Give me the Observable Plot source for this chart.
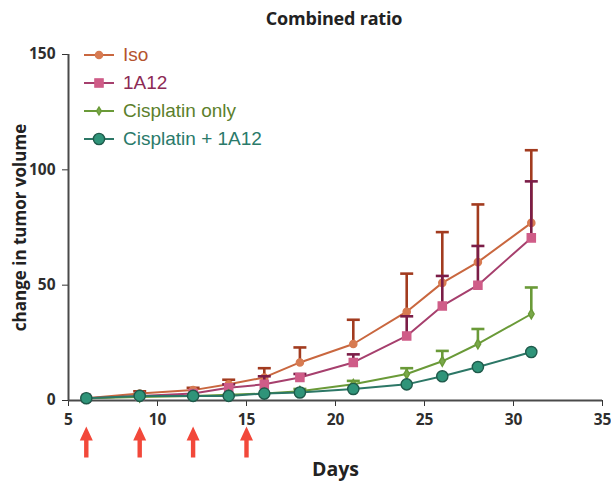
<!DOCTYPE html>
<html><head><meta charset="utf-8">
<script src="https://cdn.jsdelivr.net/npm/d3@7"></script>
<script src="https://cdn.jsdelivr.net/npm/@observablehq/plot@0.6"></script>
<style>
body{margin:0;background:#fff;}
#wrap{position:relative;width:611px;height:483px;overflow:hidden;}
#chart{position:absolute;left:0;top:0;}
#title{position:absolute;left:0;top:6px;width:668px;text-align:center;font:bold 18px "Open Sans";color:#222;letter-spacing:-0.2px;}
#legend{position:absolute;left:84px;top:41px;font-family:"Liberation Sans";font-size:19px;}
.row{display:flex;align-items:center;height:28px;white-space:nowrap;}
.row svg{margin-right:9px;}
</style></head><body>
<div id="wrap"><div id="chart"></div><div id="title">Combined ratio</div><div id="legend"></div></div>
<script>
const days = [6, 9, 12, 14, 16, 18, 21, 24, 26, 28, 31];
const seriesNames = ["Iso", "1A12", "Cisplatin only", "Cisplatin + 1A12"];
const isoMean = [1, 3, 4.5, 7, 10, 16.5, 24.5, 38.5, 51, 60, 77];
const isoUpper = [null, 4, 5.5, 9, 14, 23, 35, 55, 73, 85, 108.5];
const a12Mean = [1, 2, 3, 5.5, 7, 10, 16.5, 28, 41, 50, 70.5];
const a12Upper = [null, null, null, 7, 10.5, 11.5, 20, 36.5, 54, 67, 95];
const cisMean = [1, 1.5, 2, 2.5, 3, 4, 7, 11.5, 17, 24.5, 37.5];
const cisUpper = [null, null, null, null, null, 5, 8.5, 14, 21.5, 31, 49];
const combMean = [1, 2, 2, 2, 3, 3.5, 5, 7, 10.5, 14.5, 21];
const combUpper = [null, null, null, null, null, null, null, null, null, null, null];
const arrowDays = [6, 9, 12, 15];
const xTicks = [5, 10, 15, 20, 25, 30, 35];
const yTicks = [0, 50, 100, 150];

const styles = {
  "Iso": {line: "#c9673f", fill: "#d77b52", err: "#a23b1f", symbol: "circle", r: 3.6, mstroke: "#d77b52", text: "#b5532e"},
  "1A12": {line: "#a63f6d", fill: "#cf5c88", err: "#7b1d47", symbol: "square", r: 4.6, mstroke: "#cf5c88", text: "#8c2a55"},
  "Cisplatin only": {line: "#6a9a38", fill: "#7aa84a", err: "#6a9a38", symbol: "diamond", r: 3, mstroke: "#6a9a38", text: "#5c7f2c"},
  "Cisplatin + 1A12": {line: "#2c7766", fill: "#2f9479", err: "#2c7766", symbol: "circle", r: 5.6, mstroke: "#1f5a4b", text: "#2a7a6a"}
};
const means = [isoMean, a12Mean, cisMean, combMean];
const uppers = [isoUpper, a12Upper, cisUpper, combUpper];
const rows = [];
seriesNames.forEach((s, i) => days.forEach((d, j) => rows.push({series: s, day: d, value: means[i][j], upper: uppers[i][j]})));

const capSymbol = {draw(ctx) { ctx.moveTo(-6.5, 0); ctx.lineTo(6.5, 0); }};
const arrowSymbol = {draw(ctx) {
  ctx.moveTo(0, -16); ctx.lineTo(6.5, -2); ctx.lineTo(2.2, -2); ctx.lineTo(2.2, 15);
  ctx.lineTo(-2.2, 15); ctx.lineTo(-2.2, -2); ctx.lineTo(-6.5, -2); ctx.closePath();
}};

const marks = [];
seriesNames.forEach(s => {
  const st = styles[s];
  const data = rows.filter(r => r.series === s);
  const err = data.filter(r => r.upper != null);
  marks.push(Plot.line(data, {x: "day", y: "value", stroke: st.line, strokeWidth: 2}));
  marks.push(Plot.ruleX(err, {x: "day", y1: "value", y2: "upper", stroke: st.err, strokeWidth: 2.6}));
  marks.push(Plot.dot(err, {x: "day", y: "upper", symbol: capSymbol, stroke: st.err, strokeWidth: 2.6, fill: "none"}));
  marks.push(Plot.dot(data, {x: "day", y: "value", symbol: st.symbol, r: st.r, fill: st.fill, stroke: st.mstroke, strokeWidth: 1.4}));
});

const tickFont = {fontFamily: "Open Sans", fontWeight: "bold", fontSize: 15.5, fill: "#2e2e2e"};

const chart = Plot.plot({
  width: 611, height: 483,
  marginTop: 54, marginBottom: 83, marginLeft: 68, marginRight: 9,
  style: {fontFamily: "Open Sans", color: "#333", background: "white"},
  x: {domain: [5, 35], ticks: xTicks, tickSize: 6, tickFormat: () => "", label: null},
  y: {domain: [0, 150], ticks: yTicks, tickSize: 6, tickFormat: () => "", label: null},
  marks: [
    Plot.ruleY([0], {stroke: "#4a4a4a", strokeWidth: 2}),
    Plot.ruleX([5], {stroke: "#4a4a4a", strokeWidth: 2}),
    Plot.text(xTicks, {x: d => d, frameAnchor: "bottom", dy: 20, text: d => String(d), textAnchor: "middle", lineAnchor: "middle", ...tickFont}),
    Plot.text(yTicks, {y: d => d, frameAnchor: "left", dx: -13, text: d => String(d), textAnchor: "end", lineAnchor: "middle", ...tickFont}),
    ...marks,
    Plot.dot(arrowDays, {x: d => d, frameAnchor: "bottom", dy: 42, symbol: arrowSymbol, fill: "#f2483a", stroke: "none"}),
    Plot.text(["change in tumor volume"], {frameAnchor: "left", dx: -48, rotate: -90, textAnchor: "middle", lineAnchor: "middle", fontFamily: "Open Sans", fontWeight: "bold", fontSize: 17, fill: "#222"}),
    Plot.text(["Days"], {frameAnchor: "bottom", dy: 69, textAnchor: "middle", lineAnchor: "middle", fontFamily: "Open Sans", fontWeight: "bold", fontSize: 19.5, fill: "#222"})
  ]
});
document.getElementById("chart").appendChild(chart);

const legend = document.getElementById("legend");
const symPaths = {
  circle: r => `<circle cx="15" cy="7" r="${r}"/>`,
  square: r => `<rect x="${15 - r * 0.89}" y="${7 - r * 0.89}" width="${r * 1.78}" height="${r * 1.78}"/>`,
  diamond: r => `<path d="M15 ${7 - r * 1.3} L${15 + r * 0.8} 7 L15 ${7 + r * 1.3} L${15 - r * 0.8} 7Z"/>`
};
seriesNames.forEach(s => {
  const st = styles[s];
  const div = document.createElement("div");
  div.className = "row";
  div.innerHTML = `<svg width="30" height="14"><line x1="0" x2="30" y1="7" y2="7" stroke="${st.line}" stroke-width="2"/><g fill="${st.fill}" stroke="${st.mstroke}" stroke-width="1.4">${symPaths[st.symbol](st.r)}</g></svg><span style="color:${st.text}">${s}</span>`;
  legend.appendChild(div);
});
</script>
</body></html>
